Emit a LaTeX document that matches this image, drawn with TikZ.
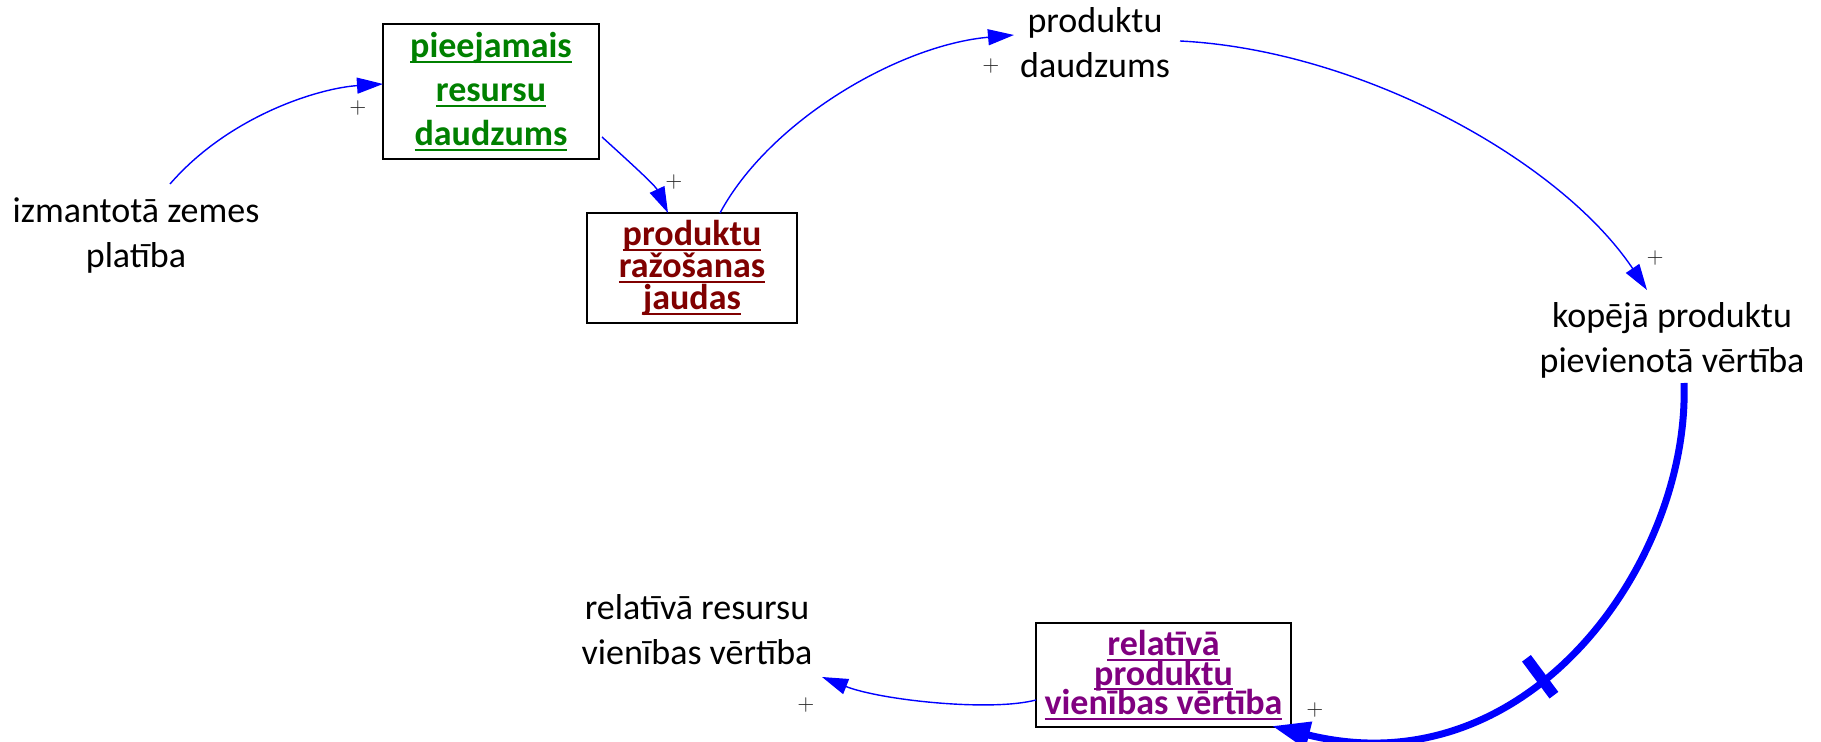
\documentclass[tikz,border=0pt]{standalone}
\usepackage{fontspec}
\setmainfont{Carlito}
\usetikzlibrary{arrows.meta,calc}
\newcommand\myul[1]{\setbox0\hbox{#1}\rlap{\rule[-2.5pt]{\wd0}{0.9pt}}\box0}
\newcommand\tightls{\lineskiplimit=-50pt\relax\lineskip=0pt\relax}
\definecolor{resgreen}{RGB}{0,128,0}
\definecolor{proddred}{RGB}{128,0,0}
\definecolor{relpurple}{RGB}{128,0,128}
\definecolor{linkblue}{RGB}{0,0,255}
\definecolor{plusgray}{RGB}{40,40,40}
\begin{document}
\begin{tikzpicture}[x=0.5pt,y=-0.5pt,
  plain/.style={align=center, font=\fontsize{18}{22.5}\selectfont, inner sep=0pt},
  stockbox/.style={draw=black, line width=0.75pt, align=center, inner sep=0pt,
    font=\bfseries\fontsize{18}{#1}\selectfont\tightls},
  link/.style={draw=linkblue, line width=0.7pt, -{Triangle[length=13pt,width=8pt]}},
  strong/.style={draw=linkblue, line width=3.5pt, -{Triangle[length=19pt,width=13pt]}},
  pol/.style={text=plusgray, font=\fontsize{11}{11}\selectfont, inner sep=0pt},
]
\useasboundingbox (0,0) rectangle (1821,742);

\node[plain] (iz) at (136,236) {izmantotā zemes\\platība};
\node[stockbox=22, text=resgreen, minimum width=108pt, minimum height=67.5pt] (b1) at (491,91.5)
  {\myul{pieejamais}\\\myul{resursu}\\\myul{daudzums}};
\node[stockbox=16, text=proddred, minimum width=105pt, minimum height=55pt] (b2) at (692,268)
  {\myul{produktu}\\\myul{ražošanas}\\\myul{jaudas}};
\node[plain] (pd) at (1095,43) {produktu\\daudzums};
\node[plain] (kp) at (1672,340) {kopējā produktu\\pievienotā vērtība};
\node[stockbox=14.8, text=relpurple, minimum width=127.5pt, minimum height=52pt] (b3) at (1163.5,675)
  {\myul{relatīvā}\\\myul{produktu}\\\myul{vienības vērtība}};
\node[plain] (rr) at (697,630) {relatīvā resursu\\vienības vērtība};

\draw[link] ($(iz.center)+(34,-52)$) .. controls +(60,-69) and +(-63,4) .. ($(b1.center)+(-108,-7.5)$);
\draw[link] ($(b1.center)+(111,45.5)$) .. controls +(23,21) and +(-13,-28) .. ($(b2.center)+(-24,-55)$);
\draw[link] ($(b2.center)+(28,-55)$) .. controls +(50,-93) and +(-114,10) .. ($(pd.center)+(-81,-8)$);
\draw[link] ($(pd.center)+(85,-2)$) .. controls +(180,9) and +(-87,-130) .. ($(kp.center)+(-25,-50)$);
\draw[strong] ($(kp.center)+(12,43)$) .. controls +(6,177) and +(258,64) .. ($(b3.center)+(108.5,51)$)
  node[pos=0.58, sloped, fill=linkblue, minimum width=5.5pt, minimum height=23pt, inner sep=0pt] (hash) {};
\draw[link] ($(b3.center)+(-127.5,25)$) .. controls +(-46,12) and +(58,23) .. ($(rr.center)+(125,47)$);

\node[pol] (p1) at (358,108) {$+$};
\node[pol] (p2) at (674,182) {$+$};
\node[pol] (p3) at (991,66) {$+$};
\node[pol] (p4) at (1655,258) {$+$};
\node[pol] (p5) at (1315,710) {$+$};
\node[pol] (p6) at (806,705) {$+$};
\end{tikzpicture}
\end{document}
